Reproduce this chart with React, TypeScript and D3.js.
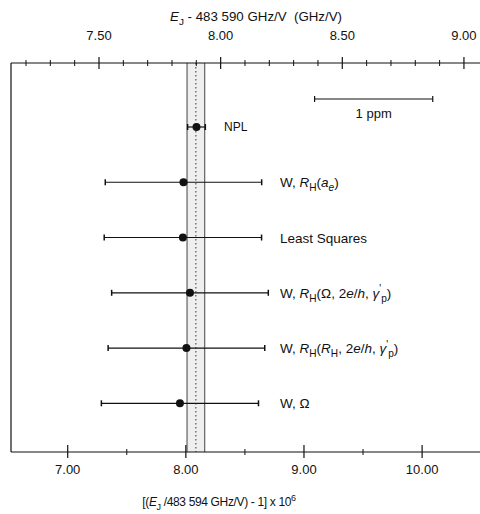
import React from "react";
import * as d3 from "d3";

// measurements, one row per determination (bottom scale, ppm)
const names = ["NPL", "W, RH(ae)", "Least Squares", "W, RH(O, 2e/h, gp')", "W, RH(RH, 2e/h, gp')", "W, O"];
const values = [8.09, 7.98, 7.975, 8.035, 8.005, 7.95];
const uncert = [0.075, 0.662, 0.666, 0.663, 0.663, 0.665];

// shaded band + dotted centre line
const bandCenter = 8.085;
const bandHalf = 0.075;

// tick labels
const bottomMajor = [7, 8, 9, 10];
const bottomMinor = [7.5, 8.5, 9.5];
const topMajor = [7.5, 8.0, 8.5, 9.0];
const topMinor = [7.2, 7.3, 7.4, 7.6, 7.7, 7.8, 7.9, 8.1, 8.2, 8.3, 8.4, 8.6, 8.7, 8.8, 8.9];
const scaleBar = [9.09, 10.09];

type Seg = { t: string; i?: boolean; s?: "sub" | "sup"; dx?: number };

// rich labels (italics, sub/superscripts)
const labelSegs: Seg[][] = [
  [{ t: "NPL" }],
  [{ t: "W, " }, { t: "R", i: true }, { t: "H", s: "sub" }, { t: "(" }, { t: "a", i: true }, { t: "e", i: true, s: "sub" }, { t: ")" }],
  [{ t: "Least Squares" }],
  [{ t: "W, " }, { t: "R", i: true }, { t: "H", s: "sub" }, { t: "(\u03A9, 2" }, { t: "e", i: true }, { t: "/" }, { t: "h", i: true },
    { t: ", " }, { t: "\u03B3", i: true }, { t: "'", s: "sup" }, { t: "p", s: "sub" }, { t: ")" }],
  [{ t: "W, " }, { t: "R", i: true }, { t: "H", s: "sub" }, { t: "(" }, { t: "R", i: true }, { t: "H", s: "sub" }, { t: ", 2" },
    { t: "e", i: true }, { t: "/" }, { t: "h", i: true }, { t: ", " }, { t: "\u03B3", i: true }, { t: "'", s: "sup" },
    { t: "p", s: "sub" }, { t: ")" }],
  [{ t: "W, \u03A9" }],
];

const W = 480;
const H = 514;
const left = 11, right = 480, top = 63, bottom = 452;
const font = "'Liberation Sans', Arial, Helvetica, sans-serif";

function Rich({ segs, x, y, size, anchor, spacing }: { segs: Seg[]; x: number; y: number; size: number; anchor?: string; spacing?: number }) {
  let cur = 0;
  const parts = segs.map((s, k) => {
    const off = s.s === "sub" ? size * 0.3 : s.s === "sup" ? -size * 0.4 : 0;
    const dy = off - cur;
    cur = off;
    return (
      <tspan key={k} dy={dy || undefined} dx={s.dx} fontStyle={s.i ? "italic" : undefined}
        fontSize={s.s ? size * 0.75 : undefined}>{s.t}</tspan>
    );
  });
  return (
    <text x={x} y={y} fontSize={size} fontFamily={font} textAnchor={anchor || "start"} fill="#111"
      letterSpacing={spacing}>
      {parts}
    </text>
  );
}

export default function App() {
  const x = d3.scaleLinear().domain([6.52, 10.49]).range([left, right]);
  // E_J - 483 590 GHz/V scale on top
  const xTop = d3.scaleLinear().domain([7.1383, 9.066]).range([left, right]);
  const y = d3.scalePoint().domain(names).range([127, 403.3]);
  const fmt = d3.format(".2f");

  return (
    <svg width={W} height={H} style={{ position: "absolute", left: 0, top: 0, background: "#fff" }}>
      {/* band */}
      <rect x={x(bandCenter - bandHalf)} y={top} width={x(bandCenter + bandHalf) - x(bandCenter - bandHalf)}
        height={bottom - top} fill="#efefef" />
      <line x1={x(bandCenter - bandHalf)} x2={x(bandCenter - bandHalf)} y1={top} y2={bottom} stroke="#444" strokeWidth={1} />
      <line x1={x(bandCenter + bandHalf)} x2={x(bandCenter + bandHalf)} y1={top} y2={bottom} stroke="#444" strokeWidth={1} />
      <line x1={x(bandCenter)} x2={x(bandCenter)} y1={top} y2={bottom} stroke="#333" strokeWidth={1} strokeDasharray="1.5,2.5" />

      {/* frame */}
      <line x1={left} x2={left} y1={top} y2={bottom} stroke="#111" strokeWidth={1.2} />
      <line x1={left} x2={right} y1={top} y2={top} stroke="#111" strokeWidth={1.2} />
      <line x1={left} x2={right} y1={bottom} y2={bottom} stroke="#111" strokeWidth={1.2} />

      {/* top axis */}
      {topMajor.map((t) => (
        <g key={"tM" + t}>
          <line x1={xTop(t)} x2={xTop(t)} y1={top - 6} y2={top + 6} stroke="#111" strokeWidth={1.2} />
          <text x={xTop(t)} y={40} fontSize={13} fontFamily={font} textAnchor="middle" fill="#111">{fmt(t)}</text>
        </g>
      ))}
      {topMinor.map((t) => (
        <line key={"tm" + t} x1={xTop(t)} x2={xTop(t)} y1={top - 3} y2={top + 3} stroke="#111" strokeWidth={1} />
      ))}

      {/* bottom axis */}
      {bottomMajor.map((t) => (
        <g key={"bM" + t}>
          <line x1={x(t)} x2={x(t)} y1={bottom - 7} y2={bottom + 6} stroke="#111" strokeWidth={1.2} />
          <text x={x(t)} y={474} fontSize={13} fontFamily={font} textAnchor="middle" fill="#111">{fmt(t)}</text>
        </g>
      ))}
      {bottomMinor.map((t) => (
        <line key={"bm" + t} x1={x(t)} x2={x(t)} y1={bottom - 3} y2={bottom + 3} stroke="#111" strokeWidth={1} />
      ))}

      {/* titles */}
      <Rich x={256} y={21} size={13.3} anchor="middle"
        segs={[{ t: "E", i: true }, { t: "J", s: "sub" }, { t: " - 483 590 GHz/V\u00A0\u00A0(GHz/V)" }]} />
      <Rich x={219} y={506} size={12} anchor="middle" spacing={-0.35}
        segs={[{ t: "[(" }, { t: "E", i: true }, { t: "J", s: "sub" }, { t: " /483 594 GHz/V) - 1] x 10" }, { t: "6", s: "sup" }]} />

      {/* 1 ppm scale bar */}
      <line x1={x(scaleBar[0])} x2={x(scaleBar[1])} y1={99} y2={99} stroke="#111" strokeWidth={1.2} />
      {scaleBar.map((v) => (
        <line key={"sb" + v} x1={x(v)} x2={x(v)} y1={96} y2={102} stroke="#111" strokeWidth={1.2} />
      ))}
      <text x={(x(scaleBar[0]) + x(scaleBar[1])) / 2} y={118} fontSize={13} fontFamily={font} textAnchor="middle" fill="#111">1 ppm</text>

      {/* error bars */}
      {names.map((n, i) => {
        const cy = y(n)!;
        const lo = x(values[i] - uncert[i]);
        const hi = x(values[i] + uncert[i]);
        return (
          <g key={n}>
            <line x1={lo} x2={hi} y1={cy} y2={cy} stroke="#111" strokeWidth={1.2} />
            <line x1={lo} x2={lo} y1={cy - 3} y2={cy + 3} stroke="#111" strokeWidth={1.5} />
            <line x1={hi} x2={hi} y1={cy - 3} y2={cy + 3} stroke="#111" strokeWidth={1.5} />
            <circle cx={x(values[i])} cy={cy} r={4} fill="#111" />
            <Rich segs={labelSegs[i]} x={i === 0 ? 224 : 280} y={cy + (i === 0 ? 4 : 5)} size={i === 0 ? 12 : 13.5} />
          </g>
        );
      })}
    </svg>
  );
}
